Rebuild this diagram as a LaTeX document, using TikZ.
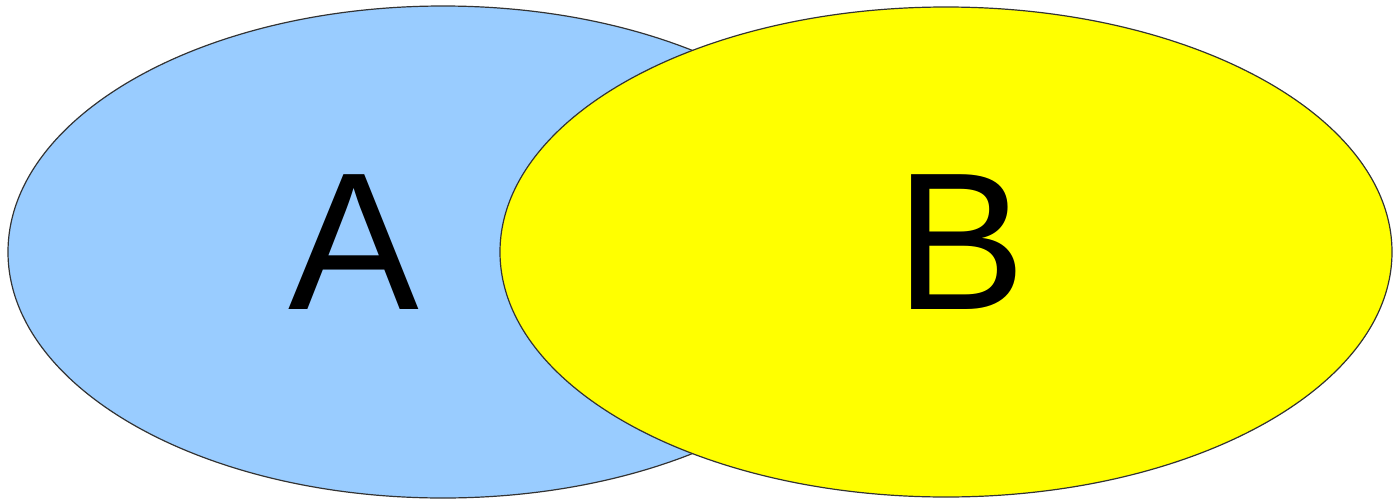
\documentclass[tikz,border=0pt]{standalone}
\usepackage{fontspec}
\setmainfont{Liberation Sans}
\definecolor{setA}{HTML}{99CCFF}
\definecolor{setB}{HTML}{FFFF00}

\begin{document}
\begin{tikzpicture}[x=1pt, y=-1pt, font=\fontsize{196}{196}\selectfont]
  \useasboundingbox (0,0) rectangle (1395,501);
  \filldraw[fill=setA, draw=black!80, line width=1.2pt] (443,252) ellipse (435 and 246);
  \filldraw[fill=setB, draw=black!80, line width=1.2pt] (946,252) ellipse (446 and 245);
  \node (A) at (354,242) {A};
  \node (B) at (961,242) {B};
\end{tikzpicture}
\end{document}
